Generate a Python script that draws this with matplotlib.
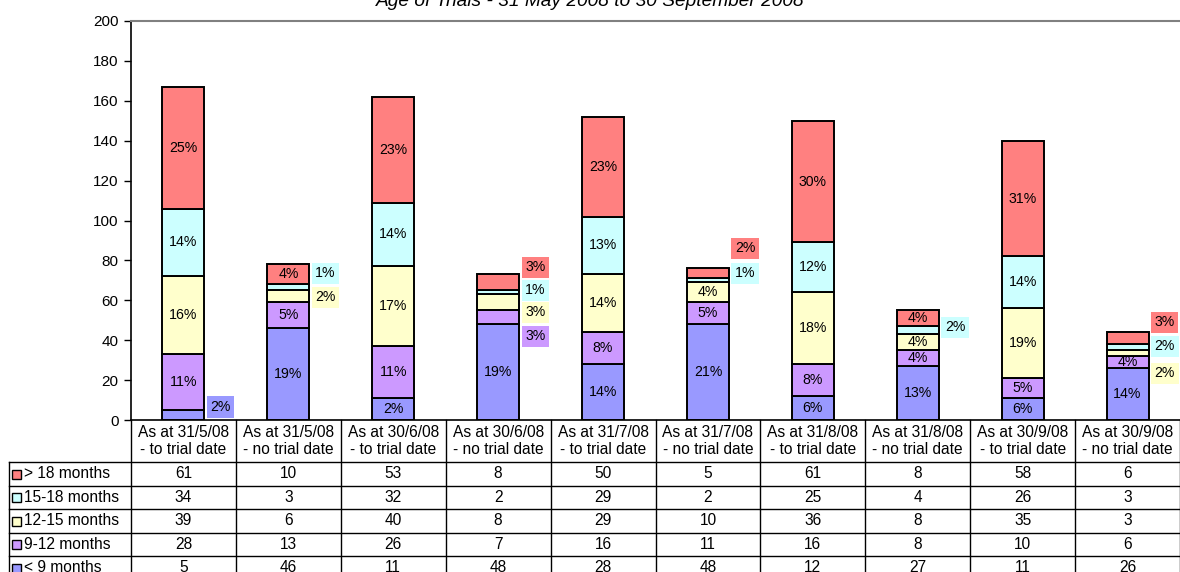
import matplotlib
matplotlib.use("Agg")
import matplotlib.pyplot as plt
from matplotlib import transforms
from matplotlib.lines import Line2D
from matplotlib.patches import Rectangle
import numpy as np

plt.rcParams['font.family'] = ['Liberation Sans', 'DejaVu Sans']

title = "Age of Trials - 31 May 2008 to 30 September 2008"
categories = ["As at 31/5/08\n- to trial date", "As at 31/5/08\n- no trial date",
              "As at 30/6/08\n- to trial date", "As at 30/6/08\n- no trial date",
              "As at 31/7/08\n- to trial date", "As at 31/7/08\n- no trial date",
              "As at 31/8/08\n- to trial date", "As at 31/8/08\n- no trial date",
              "As at 30/9/08\n- to trial date", "As at 30/9/08\n- no trial date"]

# stacked bottom -> top
series_names = ["< 9 months", "9-12 months", "12-15 months", "15-18 months", "> 18 months"]
lt9 = [5, 46, 11, 48, 28, 48, 12, 27, 11, 26]
m9_12 = [28, 13, 26, 7, 16, 11, 16, 8, 10, 6]
m12_15 = [39, 6, 40, 8, 29, 10, 36, 8, 35, 3]
m15_18 = [34, 3, 32, 2, 29, 2, 25, 4, 26, 3]
gt18 = [61, 10, 53, 8, 50, 5, 61, 8, 58, 6]

pct_lt9 = ["2%", "19%", "2%", "19%", "14%", "21%", "6%", "13%", "6%", "14%"]
pct_9_12 = ["11%", "5%", "11%", "3%", "8%", "5%", "8%", "4%", "5%", "4%"]
pct_12_15 = ["16%", "2%", "17%", "3%", "14%", "4%", "18%", "4%", "19%", "2%"]
pct_15_18 = ["14%", "1%", "14%", "1%", "13%", "1%", "12%", "2%", "14%", "2%"]
pct_gt18 = ["25%", "4%", "23%", "3%", "23%", "2%", "30%", "4%", "31%", "3%"]

colors = ["#9999FF", "#CC99FF", "#FFFFCC", "#CCFFFF", "#FF8080"]

series = [lt9, m9_12, m12_15, m15_18, gt18]
pcts = [pct_lt9, pct_9_12, pct_12_15, pct_15_18, pct_gt18]

# labels drawn beside the bar: (bar index, series index, label y position)
outside = [(0, 0, 6.5),
           (1, 3, 73.5), (1, 2, 61.5),
           (3, 4, 76.5), (3, 3, 65), (3, 2, 54), (3, 1, 42),
           (5, 4, 86), (5, 3, 73.5),
           (7, 3, 46.5),
           (9, 4, 49), (9, 3, 37), (9, 2, 23.5)]
outside_set = {(b, s) for b, s, _ in outside}

W, H = 1180, 572
fig = plt.figure(figsize=(W / 100, H / 100), dpi=100)
ax = fig.add_axes([131 / W, (H - 420) / H, 1049 / W, 399 / H])

x = np.arange(len(categories))
bottom = np.zeros(len(categories))
for s, (vals, c) in enumerate(zip(series, colors)):
    vals = np.array(vals, dtype=float)
    ax.bar(x, vals, 0.4, bottom=bottom, color=c, edgecolor='black', linewidth=1.4, zorder=2)
    for i in range(len(x)):
        if (i, s) not in outside_set:
            ax.text(x[i], bottom[i] + vals[i] / 2, pcts[s][i], ha='center', va='center',
                    fontsize=10.2, zorder=3)
    bottom += vals

for b, s, yv in outside:
    ax.text(x[b] + 0.355, yv, pcts[s][b], ha='center', va='center', fontsize=10.2,
            bbox=dict(facecolor=colors[s], edgecolor='none', pad=2.5), zorder=3)

ax.set_xlim(-0.5, len(categories) - 0.5)
ax.set_ylim(0, 200)
ax.set_yticks(np.arange(0, 201, 20))
ax.tick_params(axis='y', labelsize=11, length=5, width=1, direction='out', pad=4)
ax.set_xticks([])
ax.spines['right'].set_visible(False)
ax.spines['top'].set_color('#808080')
ax.spines['top'].set_linewidth(1.5)
ax.spines['left'].set_linewidth(1.2)
ax.spines['bottom'].set_linewidth(1.2)

fig.text(590 / W, 1 - 6 / H, title, ha='center', va='baseline', fontsize=13.8, style='italic')

# data table
tr = transforms.blended_transform_factory(ax.transData, fig.transFigure)
def fy(py):
    return 1 - py / H

leg_left = -0.5 - 122 / 105
row_edges = [462, 485.5, 509, 532.5, 556, 579.5]
for i in range(len(categories) + 1):
    fig.add_artist(Line2D([i - 0.5, i - 0.5], [fy(420), fy(590)], transform=tr,
                          color='black', lw=1))
fig.add_artist(Line2D([leg_left, leg_left], [fy(462), fy(590)], transform=tr, color='black', lw=1))
for ry in row_edges:
    fig.add_artist(Line2D([leg_left, len(categories) - 0.5], [fy(ry), fy(ry)], transform=tr,
                          color='black', lw=1))

for i, cat in enumerate(categories):
    fig.text(x[i], fy(441), cat, transform=tr, ha='center', va='center', fontsize=11.2,
             linespacing=1.2)

row_series = list(range(len(series)))[::-1]
for r, s in enumerate(row_series):
    cy = (row_edges[r] + row_edges[r + 1]) / 2
    fig.add_artist(Rectangle((12 / W, fy(cy + 5)), 9 / W, 9 / H, transform=fig.transFigure,
                             facecolor=colors[s], edgecolor='black', lw=1))
    fig.text(24 / W, fy(cy), series_names[s], ha='left', va='center', fontsize=11.2)
    for i in range(len(categories)):
        fig.text(x[i], fy(cy), str(series[s][i]), transform=tr, ha='center', va='center',
                 fontsize=11.2)

fig.savefig("out.png", dpi=100)
